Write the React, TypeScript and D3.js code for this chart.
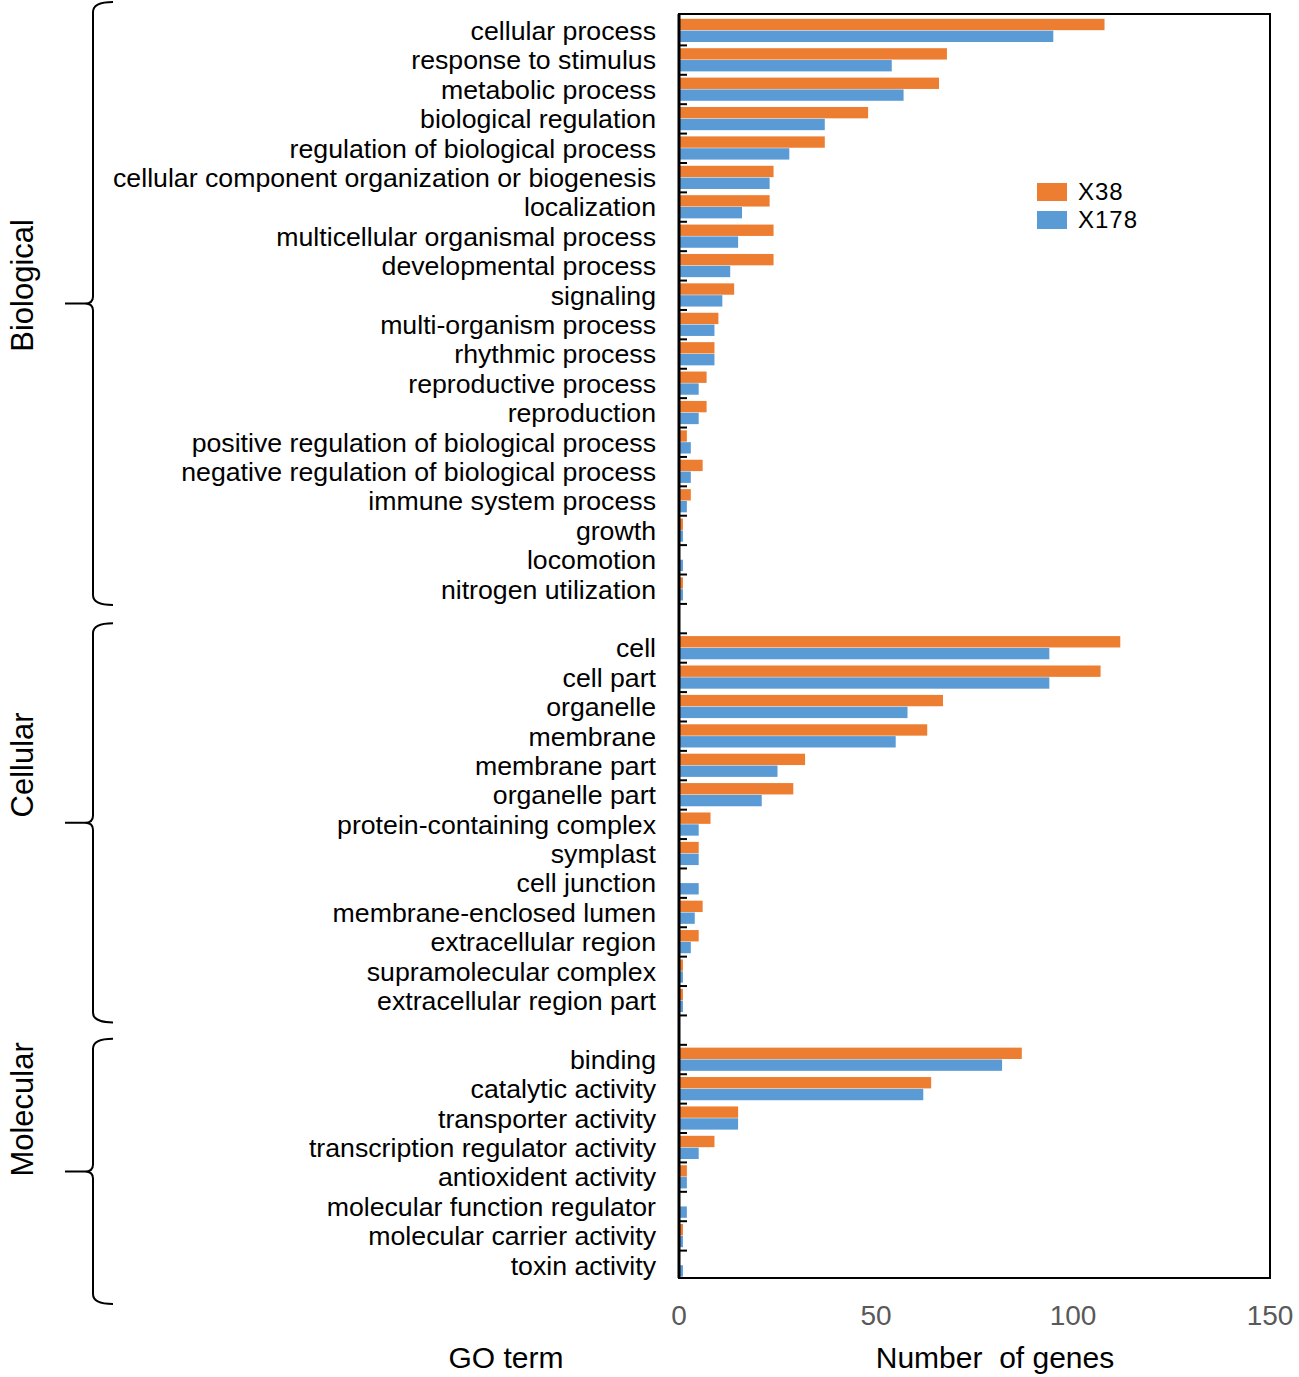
import React, { useRef, useEffect } from 'react';
import * as d3 from 'd3';

// GO term categories and gene counts
const bioTerms = [
  'cellular process', 'response to stimulus', 'metabolic process', 'biological regulation',
  'regulation of biological process', 'cellular component organization or biogenesis',
  'localization', 'multicellular organismal process', 'developmental process', 'signaling',
  'multi-organism process', 'rhythmic process', 'reproductive process', 'reproduction',
  'positive regulation of biological process', 'negative regulation of biological process',
  'immune system process', 'growth', 'locomotion', 'nitrogen utilization',
];
const bioX38 = [108, 68, 66, 48, 37, 24, 23, 24, 24, 14, 10, 9, 7, 7, 2, 6, 3, 1, 0, 1];
const bioX178 = [95, 54, 57, 37, 28, 23, 16, 15, 13, 11, 9, 9, 5, 5, 3, 3, 2, 1, 1, 1];

const cellTerms = [
  'cell', 'cell part', 'organelle', 'membrane', 'membrane part', 'organelle part',
  'protein-containing complex', 'symplast', 'cell junction', 'membrane-enclosed lumen',
  'extracellular region', 'supramolecular complex', 'extracellular region part',
];
const cellX38 = [112, 107, 67, 63, 32, 29, 8, 5, 0, 6, 5, 1, 1];
const cellX178 = [94, 94, 58, 55, 25, 21, 5, 5, 5, 4, 3, 1, 1];

const molTerms = [
  'binding', 'catalytic activity', 'transporter activity', 'transcription regulator activity',
  'antioxident activity', 'molecular function regulator', 'molecular carrier activity',
  'toxin activity',
];
const molX38 = [87, 64, 15, 9, 2, 0, 1, 0];
const molX178 = [82, 62, 15, 5, 2, 2, 1, 1];

const groupNames = ['Biological', 'Cellular', 'Molecular'];
const seriesNames = ['X38', 'X178'];
const xTicks = [0, 50, 100, 150];

const COLORS: Record<string, string> = { X38: '#ED7D31', X178: '#5B9BD5' };
const FONT = '"Liberation Sans", Arial, Helvetica, sans-serif';

interface Row {
  key: string;
  term: string;
  group: number;
  X38: number;
  X178: number;
}

const App: React.FC = () => {
  const svgRef = useRef<SVGSVGElement>(null);
  const width = 1299;
  const height = 1377;

  useEffect(() => {
    if (!svgRef.current) return;
    const root = d3.select(svgRef.current);
    root.selectAll('*').remove();

    // build rows with an empty slot between groups
    const groups = [
      { terms: bioTerms, a: bioX38, b: bioX178 },
      { terms: cellTerms, a: cellX38, b: cellX178 },
      { terms: molTerms, a: molX38, b: molX178 },
    ];
    const rows: Row[] = [];
    const slots: string[] = [];
    groups.forEach((g, gi) => {
      if (gi > 0) slots.push(`gap-${gi}`);
      g.terms.forEach((t, i) => {
        const key = `${gi}-${t}`;
        slots.push(key);
        rows.push({ key, term: t, group: gi, X38: g.a[i], X178: g.b[i] });
      });
    });

    const left = 679;
    const right = 1270;
    const top = 14;
    const bottom = 1278;

    const x = d3.scaleLinear().domain([0, 150]).range([left, right]);
    const y = d3.scaleBand<string>().domain(slots).range([16, 1280]);
    const ySeries = d3
      .scaleBand<string>()
      .domain(seriesNames)
      .range([2.8, y.bandwidth() - 3.4])
      .paddingInner(0.04);

    // bars
    const rowG = root
      .selectAll('.row')
      .data(rows)
      .enter()
      .append('g')
      .attr('class', 'row')
      .attr('transform', d => `translate(0, ${y(d.key)})`);

    seriesNames.forEach(s => {
      rowG
        .append('rect')
        .attr('x', x(0))
        .attr('y', ySeries(s) || 0)
        .attr('width', d => x((d as any)[s]) - x(0))
        .attr('height', ySeries.bandwidth())
        .attr('fill', COLORS[s]);
    });

    // category labels
    rowG
      .append('text')
      .attr('x', 656)
      .attr('y', y.bandwidth() / 2)
      .attr('dy', '0.35em')
      .attr('text-anchor', 'end')
      .attr('font-family', FONT)
      .attr('font-size', 26.7)
      .attr('fill', '#000')
      .text(d => d.term);

    // frame
    root
      .append('rect')
      .attr('x', left)
      .attr('y', top)
      .attr('width', right - left)
      .attr('height', bottom - top)
      .attr('fill', 'none')
      .attr('stroke', '#000')
      .attr('stroke-width', 2);
    root
      .append('line')
      .attr('x1', left)
      .attr('x2', left)
      .attr('y1', top)
      .attr('y2', bottom)
      .attr('stroke', '#000')
      .attr('stroke-width', 3);

    // inward ticks at every slot boundary
    const boundaries = slots.slice(1).map(k => y(k) || 0);
    root
      .selectAll('.ytick')
      .data(boundaries)
      .enter()
      .append('line')
      .attr('x1', left)
      .attr('x2', left + 8)
      .attr('y1', d => d)
      .attr('y2', d => d)
      .attr('stroke', '#000')
      .attr('stroke-width', 2);

    // x tick labels
    root
      .selectAll('.xtick')
      .data(xTicks)
      .enter()
      .append('text')
      .attr('x', d => x(d))
      .attr('y', 1315)
      .attr('dy', '0.35em')
      .attr('text-anchor', 'middle')
      .attr('font-family', FONT)
      .attr('font-size', 28)
      .attr('fill', '#595959')
      .text(d => d);

    // axis titles
    root
      .append('text')
      .attr('x', 506)
      .attr('y', 1357)
      .attr('dy', '0.35em')
      .attr('text-anchor', 'middle')
      .attr('font-family', FONT)
      .attr('font-size', 30)
      .text('GO term');
    root
      .append('text')
      .attr('x', 995)
      .attr('y', 1357)
      .attr('dy', '0.35em')
      .attr('text-anchor', 'middle')
      .attr('font-family', FONT)
      .attr('font-size', 30)
      .attr('xml:space', 'preserve')
      .text('Number  of genes');

    // legend
    const legend = root.append('g').attr('transform', 'translate(1037, 183)');
    seriesNames.forEach((s, i) => {
      legend
        .append('rect')
        .attr('x', 0)
        .attr('y', i * 28)
        .attr('width', 30)
        .attr('height', 18)
        .attr('fill', COLORS[s]);
      legend
        .append('text')
        .attr('x', 41)
        .attr('y', i * 28 + 9)
        .attr('dy', '0.35em')
        .attr('font-family', FONT)
        .attr('font-size', 24)
        .attr('letter-spacing', 1)
        .text(s);
    });

    // group braces (hand-placed offsets relative to the rows)
    const braceAdjust = [
      { padTop: 14, padBottom: 1, labelShift: -18 },
      { padTop: 10, padBottom: 7, labelShift: -58 },
      { padTop: 6, padBottom: 24, labelShift: -62 },
    ];
    groupNames.forEach((name, gi) => {
      const gRows = rows.filter(r => r.group === gi);
      const adj = braceAdjust[gi];
      const t = (y(gRows[0].key) || 0) - adj.padTop;
      const b = (y(gRows[gRows.length - 1].key) || 0) + y.bandwidth() + adj.padBottom;
      const m = (t + b) / 2;
      const vx = 93;
      const path =
        `M113,${t} Q${vx},${t} ${vx},${t + 10} V${m - 7} Q${vx},${m} ${vx - 8},${m} H65 ` +
        `M${vx - 8},${m} Q${vx},${m} ${vx},${m + 7} V${b - 10} Q${vx},${b} 113,${b}`;
      root
        .append('path')
        .attr('d', path)
        .attr('fill', 'none')
        .attr('stroke', '#000')
        .attr('stroke-width', 2);
      root
        .append('text')
        .attr('transform', `translate(22, ${m + adj.labelShift}) rotate(-90)`)
        .attr('dy', '0.35em')
        .attr('text-anchor', 'middle')
        .attr('font-family', FONT)
        .attr('font-size', 31)
        .text(name);
    });
  }, []);

  return (
    <svg
      ref={svgRef}
      width={width}
      height={height}
      style={{ position: 'absolute', left: 0, top: 0, background: '#fff' }}
    />
  );
};

export default App;
